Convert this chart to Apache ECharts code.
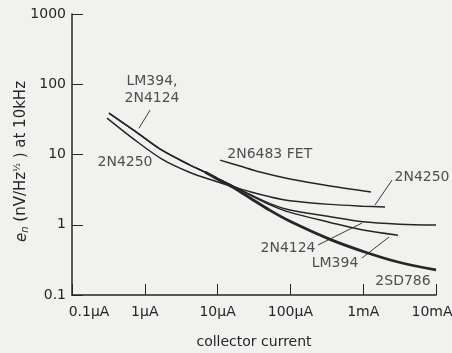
<!DOCTYPE html>
<html>
<head>
<meta charset="utf-8">
<script src="https://cdn.jsdelivr.net/npm/echarts@6/dist/echarts.min.js"></script>
<style>
html,body{margin:0;padding:0;background:#f1f1ef;}
#c{width:452px;height:353px;}
</style>
</head>
<body>
<div id="c"></div>
<script>
// collector current in µA, noise voltage in nV/√Hz
const currentTickLabels = ['0.1μA', '1μA', '10μA', '100μA', '1mA', '10mA'];
const noiseTickLabels = ['0.1', '1', '10', '100', '1000'];

const lm394 = [[0.322,38.8],[0.734,21.5],[1.72,11.5],[4.18,7.07],[6.71,5.62],[9.81,4.62],[16.3,3.55],[27.9,2.65],[52.5,1.92],[98.7,1.50],[350,1.08],[994,0.84],[3006,0.71]];
const n2n4124 = [[0.322,38.8],[0.734,21.5],[1.72,11.5],[4.18,7.07],[6.71,5.62],[9.81,4.62],[16.3,3.55],[27.9,2.70],[52.5,2.00],[98.7,1.62],[350,1.30],[994,1.10],[3202,1.02],[10000,0.99]];
const n2n4250 = [[0.303,32.9],[0.734,16.0],[1.72,8.6],[4.18,5.55],[9.81,4.1],[16.3,3.5],[27.9,2.95],[52.5,2.5],[98.7,2.2],[350,1.95],[994,1.84],[1993,1.79]];
const n2sd786 = [[6.71,5.62],[9.81,4.5],[16.3,3.4],[27.9,2.4],[52.5,1.6],[98.7,1.12],[350,0.62],[1128,0.40],[3202,0.29],[10000,0.227]];
const fet2n6483 = [[10.8,8.32],[20.3,6.84],[38.2,5.62],[98.7,4.47],[350,3.55],[1280,2.92]];

const curveLabelNames = ['LM394,\n2N4124', '2N4250', '2N6483 FET', '2N4250', '2N4124', 'LM394', '2SD786'];
const curveLabelAt = [[1.256,83.8],[0.535,7.8],[52,10.2],[6427,4.77],[92.7,0.466],[410,0.285],[3523,0.158]];
const leaderLines = [
  [[1.18,42.8],[0.832,23.7]],
  [[2488,4.32],[1453,1.91]],
  [[239,0.514],[963,1.057]],
  [[963,0.336],[2261,0.668]]
];

const INK = '#262626';
const FONT = 'DejaVu Sans';

function curve(name, data, width) {
  return {
    name: name, type: 'line', data: data, smooth: 0.3, symbol: 'none',
    lineStyle: {color: INK, width: width}, silent: true, z: 3
  };
}

const series = [
  curve('LM394', lm394, 1.5),
  curve('2N4124', n2n4124, 1.5),
  curve('2N4250', n2n4250, 1.5),
  curve('2SD786', n2sd786, 2.8),
  curve('2N6483 FET', fet2n6483, 1.5)
];
leaderLines.forEach(function (seg, i) {
  series.push({
    name: 'leader' + i, type: 'line', data: seg, symbol: 'none',
    lineStyle: {color: '#3a3a3a', width: 1}, silent: true, z: 2
  });
});
series.push({
  name: 'labels', type: 'scatter', symbolSize: 1, silent: true, z: 5,
  itemStyle: {color: 'transparent'},
  data: curveLabelNames.map(function (n, i) { return {name: n, value: curveLabelAt[i]}; }),
  label: {
    show: true, position: 'inside', formatter: '{b}',
    fontFamily: FONT, fontSize: 14, color: INK, lineHeight: 17, align: 'center', verticalAlign: 'middle'
  }
});

const chart = echarts.init(document.getElementById('c'));
chart.setOption({
  backgroundColor: '#f1f1ef',
  animation: false,
  grid: {left: 72, right: 16, top: 14, bottom: 58, containLabel: false, outerBoundsMode: 'none'},
  xAxis: {
    type: 'log', logBase: 10, min: 0.1, max: 10000,
    name: 'collector current', nameLocation: 'middle', nameGap: 40, nameMoveOverlap: false,
    nameTextStyle: {fontFamily: FONT, fontSize: 14, color: INK},
    axisLine: {show: true, lineStyle: {color: INK, width: 1.5}},
    axisTick: {show: true, inside: true, length: 11, lineStyle: {color: INK, width: 1}},
    minorTick: {show: false},
    splitLine: {show: false},
    axisLabel: {
      margin: 10, fontFamily: FONT, fontSize: 14, color: INK,
      formatter: function (v) {
        const i = Math.round(Math.log10(v)) + 1;
        const t = currentTickLabels[i];
        if (i === 0) return '{first|' + t + '}';
        if (i === currentTickLabels.length - 1) return '{last|' + t + '}';
        return t;
      },
      rich: {
        first: {fontFamily: FONT, fontSize: 14, color: INK, padding: [0, 0, 0, 34]},
        last: {fontFamily: FONT, fontSize: 14, color: INK, padding: [0, 8, 0, 0]}
      }
    }
  },
  yAxis: {
    type: 'log', logBase: 10, min: 0.1, max: 1000,
    name: '{i|e}{s|n} (nV/Hz{p|½} ) at 10kHz', nameLocation: 'middle', nameGap: 42, nameMoveOverlap: false,
    nameTextStyle: {
      fontFamily: FONT, fontSize: 15, color: INK, padding: [0, 14, 0, 0],
      rich: {
        i: {fontFamily: FONT, fontSize: 15, fontStyle: 'italic', color: INK, lineHeight: 17, verticalAlign: 'bottom'},
        s: {fontFamily: FONT, fontSize: 10, fontStyle: 'italic', color: INK, lineHeight: 10, verticalAlign: 'bottom'},
        p: {fontFamily: FONT, fontSize: 9, color: INK, lineHeight: 9, verticalAlign: 'top'}
      }
    },
    axisLine: {show: true, lineStyle: {color: INK, width: 1.5}},
    axisTick: {show: true, inside: true, length: 11, lineStyle: {color: INK, width: 1}},
    splitLine: {show: false},
    axisLabel: {
      margin: 6, fontFamily: FONT, fontSize: 14, color: INK,
      formatter: function (v) { return noiseTickLabels[Math.round(Math.log10(v)) + 1]; }
    }
  },
  series: series
});
</script>
</body>
</html>
